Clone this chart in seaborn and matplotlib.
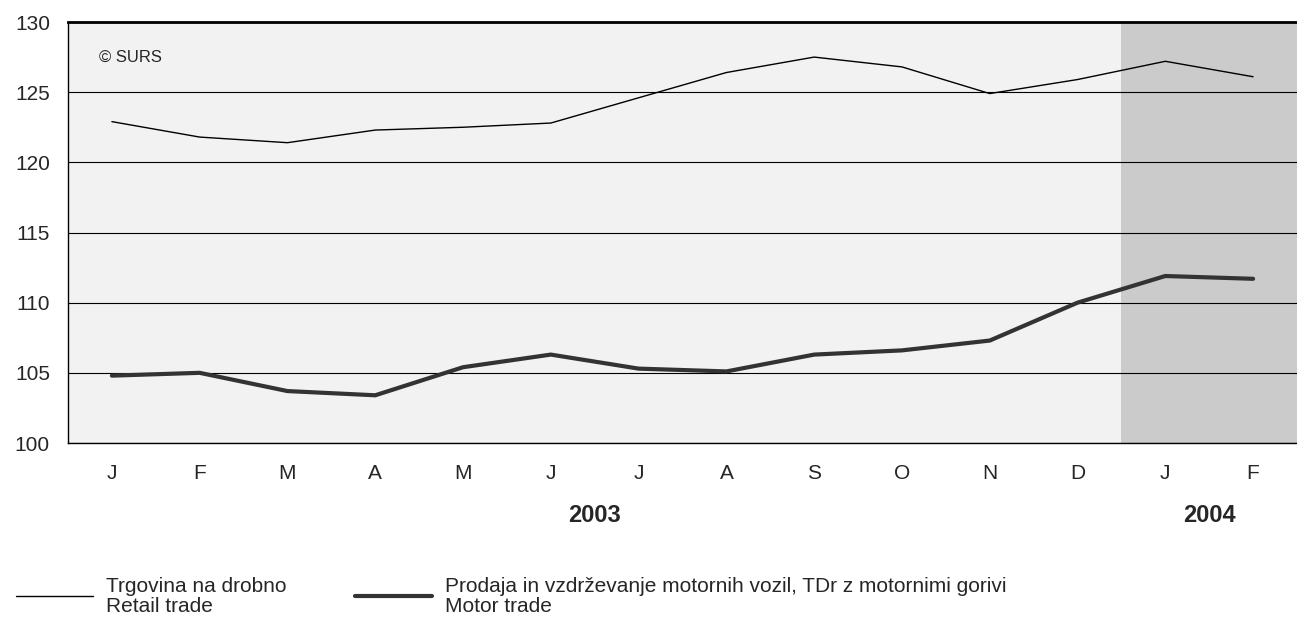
import numpy as np
import pandas as pd
import seaborn as sns
import matplotlib.pyplot as plt

# monthly indices, Jan 2003 - Feb 2004
months = ["J", "F", "M", "A", "M", "J", "J", "A", "S", "O", "N", "D", "J", "F"]
retail = [122.9, 121.8, 121.4, 122.3, 122.5, 122.8, 124.6, 126.4, 127.5, 126.8, 124.9, 125.9, 127.2, 126.1]
motor = [104.8, 105.0, 103.7, 103.4, 105.4, 106.3, 105.3, 105.1, 106.3, 106.6, 107.3, 110.0, 111.9, 111.7]
years = ["2003", "2004"]
year_spans = [(0, 11), (12, 13)]
labels = ["Trgovina na drobno\nRetail trade",
          "Prodaja in vzdrževanje motornih vozil, TDr z motornimi gorivi\nMotor trade"]

df = pd.DataFrame({"x": np.arange(len(months)), "retail": retail, "motor": motor})

sns.set_style("white")
plt.rcParams["font.family"] = ["Liberation Sans", "DejaVu Sans"]

fig = plt.figure(figsize=(12.97, 6.22), dpi=100)
ax = fig.add_axes([68 / 1297, 1 - 443 / 622, 1 - 68 / 1297, (443 - 22) / 622])
ax.set_facecolor("#f2f2f2")

ax.axvspan(11.5, 13.5, color="#cbcbcb", zorder=0.1, lw=0)

sns.lineplot(data=df, x="x", y="retail", ax=ax, color="black", lw=1.0, label=labels[0], legend=False)
sns.lineplot(data=df, x="x", y="motor", ax=ax, color="#333333", lw=3.0, label=labels[1], legend=False)

ax.set_xlim(-0.5, 13.5)
ax.set_ylim(100, 130)
ax.set_yticks(range(100, 131, 5))
ax.set_xticks(df["x"])
ax.set_xticklabels(months)
ax.set_xticks(np.arange(-0.5, 13.6, 1), minor=True)
ax.tick_params(axis="x", which="major", length=0, pad=15, labelsize=15)
ax.tick_params(axis="x", which="minor", length=5, width=1, direction="out", color="black")
ax.tick_params(axis="y", length=5, width=1, direction="out", color="black", pad=8, labelsize=15)
ax.set_xlabel("")
ax.set_ylabel("")

ax.set_axisbelow(True)
ax.yaxis.grid(True, color="black", lw=0.8)
ax.xaxis.grid(False)

for side in ["left", "bottom"]:
    ax.spines[side].set_color("black")
    ax.spines[side].set_linewidth(1)
ax.spines["top"].set_color("black")
ax.spines["top"].set_linewidth(2)
ax.spines["right"].set_visible(False)

for yr, (a, b) in zip(years, year_spans):
    ax.text((a + b) / 2, -0.172, yr, transform=ax.get_xaxis_transform(),
            ha="center", va="center", fontsize=17, fontweight="bold")

ax.text(0.025, 0.915, "© SURS", transform=ax.transAxes, fontsize=12, va="center")

handles, _ = ax.get_legend_handles_labels()
leg = fig.legend(handles, labels, loc="upper left", bbox_to_anchor=(16 / 1297, 0.073),
                 ncol=2, frameon=False, fontsize=15, handlelength=3.7,
                 handletextpad=0.62, columnspacing=3.3, borderaxespad=0, borderpad=0)
for t in leg.get_texts():
    t.set_linespacing(1.08)

fig.savefig("out.png", dpi=100)
